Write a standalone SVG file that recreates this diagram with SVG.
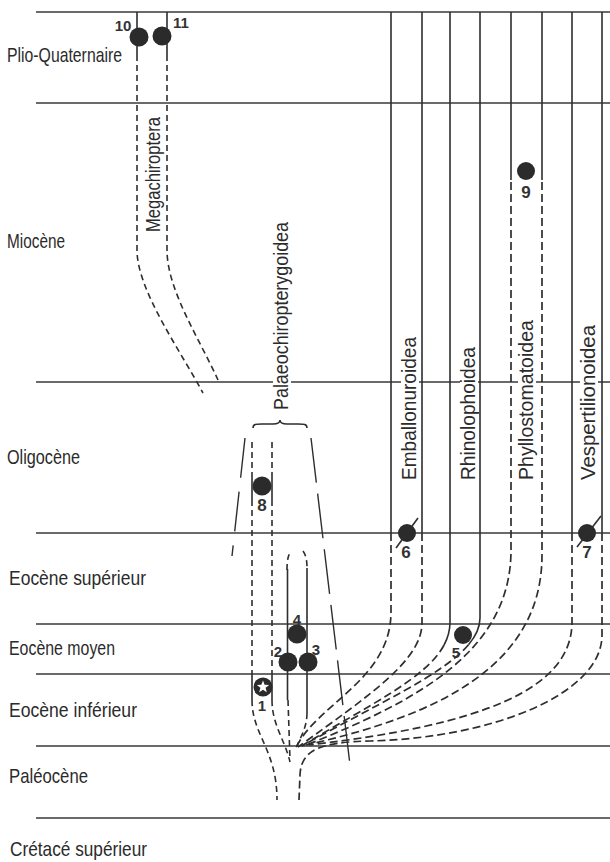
<svg xmlns="http://www.w3.org/2000/svg" width="610" height="862" viewBox="0 0 610 862">
<defs>
<style>
.hl{stroke:#3a3a3a;stroke-width:1.4;fill:none}
.s{stroke:#2e2e2e;stroke-width:1.6;fill:none}
.d{stroke:#2e2e2e;stroke-width:1.6;fill:none;stroke-dasharray:6 4}
.f{stroke:#2e2e2e;stroke-width:1.7;fill:none;stroke-dasharray:8 4}
.ld1{stroke:#2e2e2e;stroke-width:1.4;fill:none;stroke-dasharray:40 14}
.ld2{stroke:#2e2e2e;stroke-width:1.4;fill:none;stroke-dasharray:45 11}
.dot{fill:#2b2b2b}
.lbl{font-family:"Liberation Sans",Arial,sans-serif;font-size:21px;fill:#2b2b2b}
.n{font-family:"Liberation Sans",Arial,sans-serif;font-size:15px;font-weight:bold;fill:#333;text-anchor:middle}
.nb{font-size:17px}
.mask{fill:#fff}
</style>
</defs>
<rect width="610" height="862" fill="#fff"/>

<g id="time-lines">
<path class="hl" d="M36,12H610M36,103H610M36,382H610M36,533H610M36,624H610M36,674H610M36,746H610M36,818H610"/>
</g>

<g id="periods">
<g id="p-plio"><text class="lbl" x="7" y="62" textLength="115" lengthAdjust="spacingAndGlyphs">Plio-Quaternaire</text></g>
<g id="p-mio"><text class="lbl" x="7" y="248" textLength="58" lengthAdjust="spacingAndGlyphs">Miocène</text></g>
<g id="p-oligo"><text class="lbl" x="7" y="464" textLength="73" lengthAdjust="spacingAndGlyphs">Oligocène</text></g>
<g id="p-eosup"><text class="lbl" x="9" y="585" textLength="137" lengthAdjust="spacingAndGlyphs">Eocène supérieur</text></g>
<g id="p-eomoy"><text class="lbl" x="9" y="655" textLength="106" lengthAdjust="spacingAndGlyphs">Eocène moyen</text></g>
<g id="p-eoinf"><text class="lbl" x="9" y="717" textLength="128" lengthAdjust="spacingAndGlyphs">Eocène inférieur</text></g>
<g id="p-paleo"><text class="lbl" x="9" y="783" textLength="79" lengthAdjust="spacingAndGlyphs">Paléocène</text></g>
<g id="p-creta"><text class="lbl" x="10" y="856" textLength="137" lengthAdjust="spacingAndGlyphs">Crétacé supérieur</text></g>
</g>

<g id="connectors">
<path class="s" d="M137,12V55M167,12V55"/>
<path class="d" d="M137,55V250C137,290 180,350 203,393"/>
<path class="d" d="M167,55V250C167,290 200,340 218,380"/>
<path class="s" d="M253,428C253,424 256,424 262,424L273,424C277,424 280,423 280,420C280,423 283,424 287,424L298,424C304,424 307,424 307,428"/>
<path class="ld1" d="M245,438L232,556"/>
<path class="ld2" d="M311,438L350,765"/>
<path class="d" d="M252,442V473M252,500V674M272,442V473M272,500V674"/>
<path class="s" d="M252,473V500M272,473V500M252,674V700M272,674V700"/>
<path class="d" d="M252,700C252,735 277,750 277,800"/>
<path class="d" d="M272,700C272,725 285,740 290,762"/>
<path class="d" d="M287,570C287,561 288,555 291,551M303,551C306,555 307,561 307,568"/>
<path class="s" d="M287.5,569V700M307,568V713"/>
<path class="d" d="M288,700L290,760"/>
<path class="d" d="M307,713C307,728 300,738 296,748"/>
<path class="s" d="M391,12V533M422,12V533"/>
<path class="f" d="M391,533V612C391,680 315,705 296,748"/>
<path class="f" d="M422,533V623C422,660 370,695 298,747"/>
<path class="s" d="M450,12V622C450,630.28 447.89,637.94 443.95,645.25"/>
<path class="f" d="M443.95,645.25C426.02,678.53 370.06,704.36 300,747"/>
<path class="s" d="M480,12V618C480,627.24 475.89,636.04 468.5,644.73"/>
<path class="f" d="M468.5,644.73C442.31,675.54 374.98,704.88 302,746"/>
<path class="s" d="M511,12V180M542,12V180"/>
<path class="f" d="M511,182V550C511,650 420,700 304,746"/>
<path class="f" d="M542,182V555C542,665 440,715 306,745"/>
<path class="s" d="M572,12V533M602,12V533"/>
<path class="f" d="M572,533V622C572,690 480,725 309,745"/>
<path class="f" d="M602,533V635C602,695 490,738 370,741C320,742 301,750 300,775L299,800"/>
</g>

<g id="clades">
<g id="c-mega"><text class="lbl" transform="translate(160,232) rotate(-90)" textLength="115" lengthAdjust="spacingAndGlyphs">Megachiroptera</text></g>
<g id="c-palaeo"><rect class="mask" x="273" y="377" width="18" height="10"/><text class="lbl" transform="translate(288,410) rotate(-90)" textLength="188" lengthAdjust="spacingAndGlyphs">Palaeochiropterygoidea</text></g>
<g id="c-emb"><rect class="mask" x="401" y="377" width="18" height="10"/><text class="lbl" transform="translate(416,480) rotate(-90)" textLength="143" lengthAdjust="spacingAndGlyphs">Emballonuroidea</text></g>
<g id="c-rhino"><rect class="mask" x="460" y="377" width="18" height="10"/><text class="lbl" transform="translate(475,480) rotate(-90)" textLength="133" lengthAdjust="spacingAndGlyphs">Rhinolophoidea</text></g>
<g id="c-phyllo"><rect class="mask" x="518" y="377" width="18" height="10"/><text class="lbl" transform="translate(533,480) rotate(-90)" textLength="160" lengthAdjust="spacingAndGlyphs">Phyllostomatoidea</text></g>
<g id="c-vesper"><rect class="mask" x="580" y="377" width="18" height="10"/><text class="lbl" transform="translate(595,480) rotate(-90)" textLength="155" lengthAdjust="spacingAndGlyphs">Vespertilionoidea</text></g>
</g>

<g id="fossils">
<g id="f10"><circle class="dot" cx="139" cy="37" r="9.5"/><text class="n" x="123" y="31">10</text></g>
<g id="f11"><circle class="dot" cx="162" cy="36" r="9.5"/><text class="n" x="181" y="28">11</text></g>
<g id="f9"><circle class="dot" cx="526" cy="171" r="9"/><text class="n nb" x="526" y="198">9</text></g>
<g id="f8"><circle class="dot" cx="262" cy="486" r="9.5"/><text class="n nb" x="262" y="511">8</text></g>
<g id="f6"><circle class="dot" cx="407" cy="533" r="9"/><path class="s" d="M396,548L418,518"/><text class="n nb" x="406" y="558">6</text></g>
<g id="f7"><circle class="dot" cx="587" cy="533" r="9"/><path class="s" d="M577,547L601,516"/><text class="n nb" x="587" y="558">7</text></g>
<g id="f5"><circle class="dot" cx="463" cy="635" r="9"/><text class="n" x="456" y="658">5</text></g>
<g id="f4"><circle class="dot" cx="297" cy="634" r="9.5"/><text class="n" x="297" y="625">4</text></g>
<g id="f2"><circle class="dot" cx="288" cy="662" r="9.5"/><text class="n" x="278" y="657">2</text></g>
<g id="f3"><circle class="dot" cx="308" cy="662" r="9.5"/><text class="n" x="316" y="655">3</text></g>
<g id="f1"><circle class="dot" cx="263" cy="687" r="9.5"/><polygon fill="#fff" points="263,680.5 264.59,684.82 269.18,684.99 265.57,687.83 266.82,692.26 263,689.7 259.18,692.26 260.43,687.83 256.82,684.99 261.41,684.82"/><text class="n" x="262" y="711">1</text></g>
</g>
</svg>
